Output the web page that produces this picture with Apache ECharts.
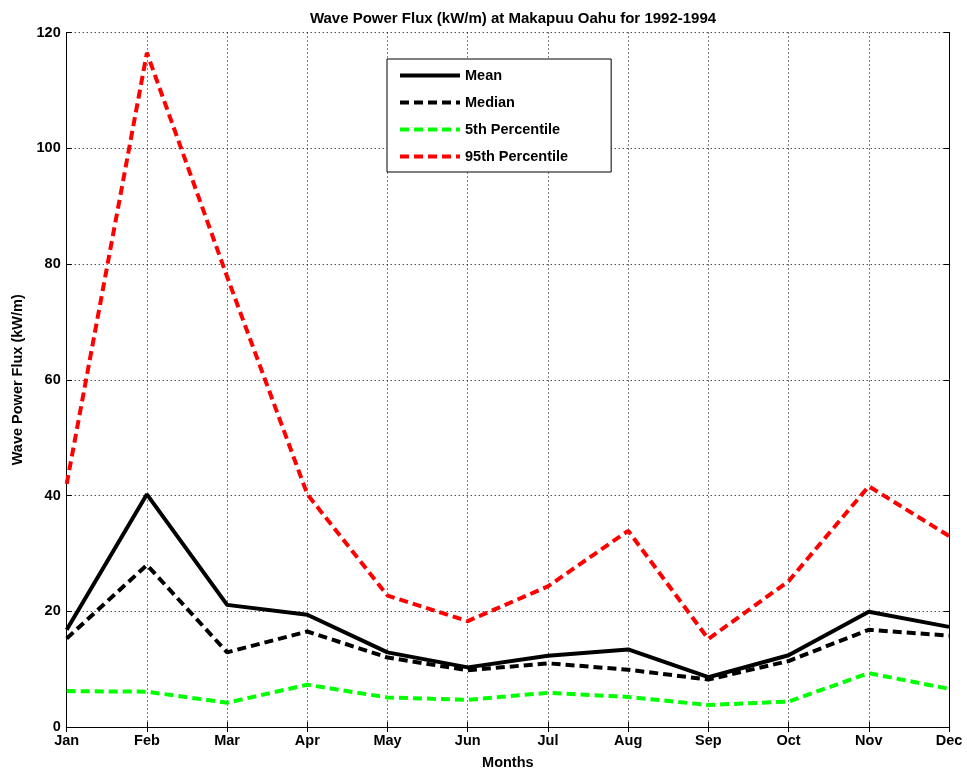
<!DOCTYPE html>
<html><head><meta charset="utf-8">
<script src="https://cdn.jsdelivr.net/npm/echarts@6/dist/echarts.min.js"></script>
<style>html,body{margin:0;padding:0;background:#fff}#c{width:967px;height:775px}</style>
</head><body><div id="c"></div>
<script>
const months = ['Jan','Feb','Mar','Apr','May','Jun','Jul','Aug','Sep','Oct','Nov','Dec'];
const meanVals   = [16.8, 40.2, 21.1, 19.4, 12.9, 10.3, 12.3, 13.4, 8.6, 12.4, 19.9, 17.3];
const medianVals = [15.3, 28.0, 12.9, 16.5, 12.0, 9.8, 11.0, 9.9, 8.2, 11.4, 16.8, 15.8];
const p5Vals     = [6.2, 6.1, 4.2, 7.3, 5.1, 4.7, 5.9, 5.2, 3.8, 4.4, 9.3, 6.6];
const p95Vals    = [42.0, 116.5, 77.8, 40.2, 22.7, 18.3, 24.3, 33.9, 15.2, 25.2, 41.6, 33.0];
const yTicks = [0, 20, 40, 60, 80, 100, 120];

const FONT = 'Liberation Sans';
const FS = 14.5;
const chart = echarts.init(document.getElementById('c'));
const dash = [9, 5];
function mk(name, data, color, type) {
  return {
    name, type: 'line', data, symbol: 'none', xAxisIndex: 0, yAxisIndex: 0,
    lineStyle: { color, width: 4, type },
    itemStyle: { color },
    emphasis: { disabled: true }
  };
}
chart.setOption({
  animation: false,
  backgroundColor: '#fff',
  title: {
    text: 'Wave Power Flux (kW/m) at Makapuu Oahu for 1992-1994',
    left: 508, top: 6, textAlign: 'center',
    textStyle: { fontFamily: FONT, fontSize: 15, fontWeight: 'bold', color: '#000' }
  },
  legend: {
    orient: 'vertical', left: 387, top: 59,
    padding: [9, 43, 8, 11],
    itemWidth: 60, itemHeight: 14, itemGap: 12,
    borderColor: '#000', borderWidth: 1, backgroundColor: '#fff',
    itemStyle: { opacity: 0 },
    lineStyle: { width: 4 },
    textStyle: { fontFamily: FONT, fontSize: FS, fontWeight: 'bold', color: '#000' },
    data: ['Mean', 'Median', '5th Percentile', '95th Percentile']
  },
  grid: { left: 66.7, right: 18, top: 32.5, bottom: 45.2, show: false },
  xAxis: [{
    type: 'category', data: months, boundaryGap: false,
    name: 'Months', nameLocation: 'middle', nameGap: 28,
    nameTextStyle: { fontFamily: FONT, fontSize: FS, fontWeight: 'bold', color: '#000' },
    axisLine: { lineStyle: { color: '#000', width: 1 } },
    axisTick: { inside: true, length: 5, lineStyle: { color: '#000' } },
    axisLabel: { fontFamily: FONT, fontSize: FS, fontWeight: 'bold', color: '#000', margin: 6 },
    splitLine: { show: true, lineStyle: { color: '#000', type: [1, 3], width: 1 } }
  }, {
    type: 'category', data: months, boundaryGap: false, position: 'top',
    axisLine: { lineStyle: { color: '#000', width: 1 } },
    axisTick: { inside: true, length: 5, lineStyle: { color: '#000' } },
    axisLabel: { show: false }, splitLine: { show: false }
  }],
  yAxis: [{
    type: 'value', min: 0, max: 120, interval: 20,
    name: 'Wave Power Flux (kW/m)', nameLocation: 'middle', nameGap: 40,
    nameTextStyle: { fontFamily: FONT, fontSize: FS, fontWeight: 'bold', color: '#000' },
    axisLine: { show: true, lineStyle: { color: '#000', width: 1 } },
    axisTick: { show: true, inside: true, length: 5, lineStyle: { color: '#000' } },
    axisLabel: { fontFamily: FONT, fontSize: FS, fontWeight: 'bold', color: '#000', margin: 6,
      formatter: v => yTicks.includes(v) ? String(v) : '' },
    splitLine: { show: true, lineStyle: { color: '#000', type: [1, 3], width: 1 } }
  }, {
    type: 'value', min: 0, max: 120, interval: 20, position: 'right',
    axisLine: { show: true, lineStyle: { color: '#000', width: 1 } },
    axisTick: { show: true, inside: true, length: 5, lineStyle: { color: '#000' } },
    axisLabel: { show: false }, splitLine: { show: false }
  }],
  series: [
    mk('Mean', meanVals, '#000000', 'solid'),
    mk('Median', medianVals, '#000000', dash),
    mk('5th Percentile', p5Vals, '#00ff00', dash),
    mk('95th Percentile', p95Vals, '#ff0000', dash)
  ]
});
</script></body></html>
